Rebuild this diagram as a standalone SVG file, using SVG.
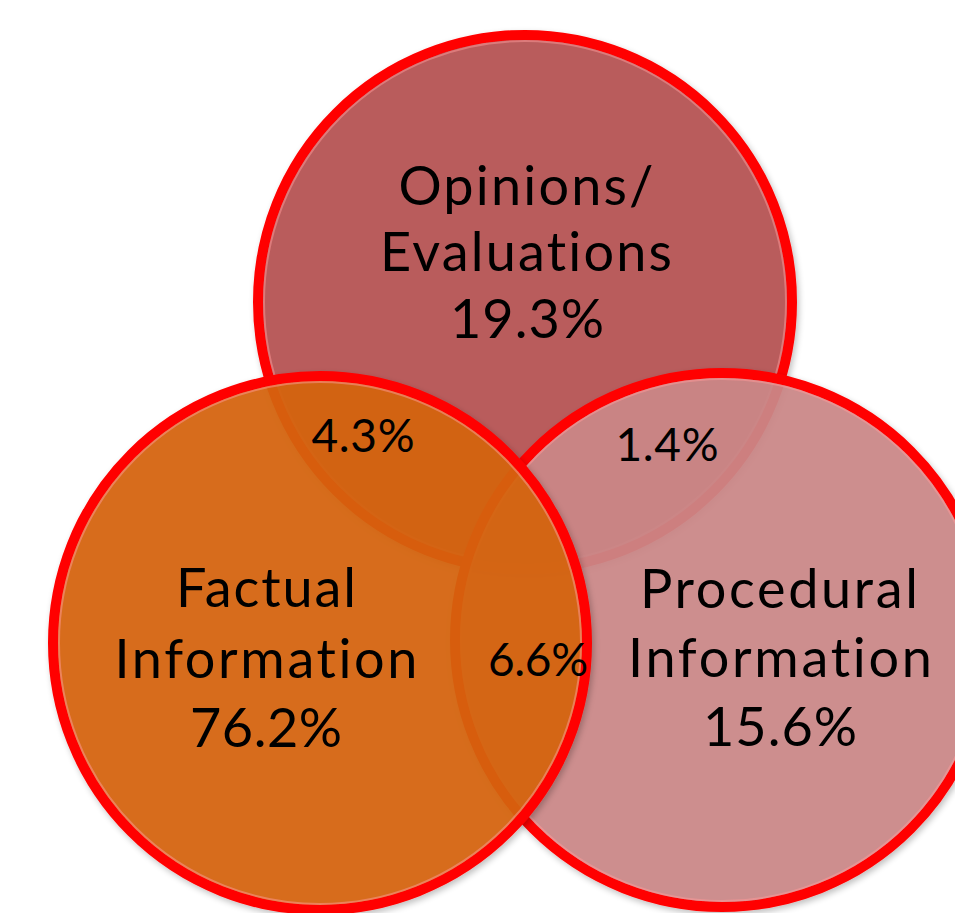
<svg xmlns="http://www.w3.org/2000/svg" width="955" height="913" viewBox="0 0 955 913">
  <defs>
    <style>
      .ring { stroke: #FF0000; stroke-width: 10; }
      .hl { fill: none; stroke: #FF9A9A; stroke-width: 2; stroke-opacity: 0.5; }
      text { font-variant-ligatures: none; font-feature-settings: "liga" 0, "clig" 0, "dlig" 0; }
      .big { font-family: Lato, "Open Sans", "DejaVu Sans", sans-serif; font-size: 54px; fill: #000; text-anchor: middle; }
      .small { font-family: Lato, "Open Sans", "DejaVu Sans", sans-serif; font-size: 46px; fill: #000; text-anchor: middle; }
    </style>
    <filter id="sh" x="-10%" y="-10%" width="120%" height="120%">
      <feGaussianBlur in="SourceAlpha" stdDeviation="3"/>
      <feOffset dx="2" dy="3" result="b"/>
      <feComponentTransfer><feFuncA type="linear" slope="0.25"/></feComponentTransfer>
      <feMerge><feMergeNode/><feMergeNode in="SourceGraphic"/></feMerge>
    </filter>
  </defs>
  <rect width="955" height="913" fill="#FFFFFF"/>

  <g id="node-opinions">
    <circle cx="525" cy="302" r="267" fill="#B95B5B" class="ring" filter="url(#sh)"/>
    <circle cx="525" cy="302" r="261" class="hl"/>
    <text class="big" x="526" y="205" textLength="255" lengthAdjust="spacing">Opinions/</text>
    <text class="big" x="526" y="271" textLength="292" lengthAdjust="spacing">Evaluations</text>
    <text class="big" x="527" y="338" textLength="154" lengthAdjust="spacing">19.3%</text>
  </g>

  <g id="node-procedural">
    <circle cx="722" cy="640" r="267" fill="#CC8888" fill-opacity="0.92" class="ring" filter="url(#sh)"/>
    <circle cx="722" cy="640" r="261" class="hl"/>
    <text class="big" x="779" y="608" textLength="278" lengthAdjust="spacing">Procedural</text>
    <text class="big" x="780" y="677" textLength="304" lengthAdjust="spacing">Information</text>
    <text class="big" x="780" y="746" textLength="154" lengthAdjust="spacing">15.6%</text>
  </g>

  <g id="node-factual">
    <circle cx="320" cy="643" r="267" fill="#D6640F" fill-opacity="0.92" class="ring" filter="url(#sh)"/>
    <circle cx="320" cy="643" r="261" class="hl"/>
    <text class="big" x="266" y="607" textLength="180" lengthAdjust="spacing">Factual</text>
    <text class="big" x="266" y="678" textLength="303" lengthAdjust="spacing">Information</text>
    <text class="big" x="266" y="747" textLength="152" lengthAdjust="spacing">76.2%</text>
  </g>

  <g id="overlap-labels">
    <text class="small" x="363" y="452" textLength="103" lengthAdjust="spacing">4.3%</text>
    <text class="small" x="667" y="461" textLength="103" lengthAdjust="spacing">1.4%</text>
    <text class="small" x="538" y="676" textLength="100" lengthAdjust="spacing">6.6%</text>
  </g>
</svg>
